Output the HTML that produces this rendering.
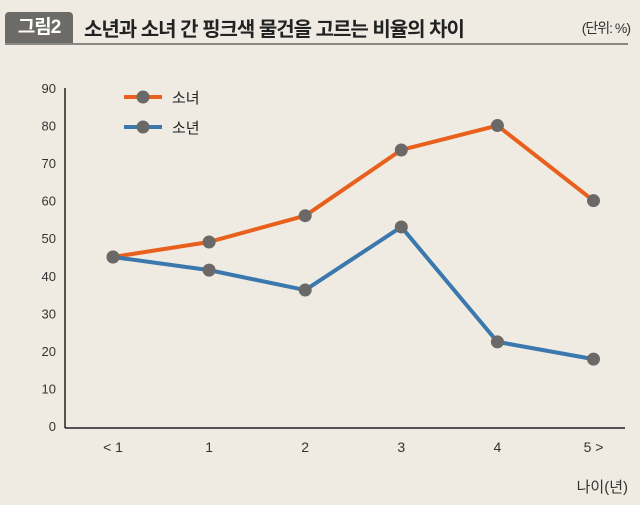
<!DOCTYPE html>
<html><head><meta charset="utf-8"><style>
body{margin:0;background:#efebe3;font-family:"Liberation Sans","Noto Sans CJK KR",sans-serif;}
#wrap{position:relative;width:640px;height:505px;background:#efebe3;overflow:hidden}
#badge{position:absolute;left:5px;top:12px;width:68px;height:32px;background:#6d6b68;color:#fff;font-size:19px;font-weight:bold;line-height:32px;text-align:center;border-radius:4px 4px 0 0;letter-spacing:-1px}
#title{position:absolute;left:84px;top:13px;font-size:20px;font-weight:bold;color:#222;letter-spacing:-1px}
#unit{position:absolute;right:10px;top:18px;font-size:14px;color:#333;letter-spacing:-1px}
#rule{position:absolute;left:5px;top:43px;width:623px;height:2px;background:#8a8784}
</style></head><body>
<div id="wrap">
<div id="badge">그림2</div>
<div id="title">소년과 소녀 간 핑크색 물건을 고르는 비율의 차이</div>
<div id="unit">(단위: %)</div>
<div id="rule"></div>
<svg id="svg" width="640" height="505" style="position:absolute;left:0;top:0"></svg>
</div>
<script>
const categories=["< 1","1","2","3","4","5 >"];
const girls=[45,49,56,73.5,80,60];
const boys=[45,41.5,36.2,53,22.4,17.8];
const yTicks=[0,10,20,30,40,50,60,70,80,90];
const ns="http://www.w3.org/2000/svg";
const svg=document.getElementById('svg');
const x0=113,dx=96.1,y0=426,yMax=88;
const xs=i=>x0+i*dx;
const ys=v=>y0-(v/90)*(y0-yMax);
function mk(t,a,p){const e=document.createElementNS(ns,t);for(const k in a)e.setAttribute(k,a[k]);(p||svg).appendChild(e);return e;}
let ax=mk('line',{x1:65,y1:88,x2:65,y2:428,stroke:'#222','stroke-width':1.5});


let bx=mk('line',{x1:65,y1:428,x2:625,y2:428,stroke:'#222','stroke-width':1.5});


yTicks.forEach(v=>{const t=mk('text',{x:56,y:ys(v)+5,'text-anchor':'end','font-size':13,fill:'#333'});t.textContent=v;

});
categories.forEach((c,i)=>{const t=mk('text',{x:xs(i),y:452,'text-anchor':'middle','font-size':14,fill:'#333'});t.textContent=c;

});
const xt=mk('text',{x:628,y:492,'text-anchor':'end','font-size':15,fill:'#333'});xt.textContent='나이(년)';


function series(vals,color,name){
 const pl=mk('polyline',{points:vals.map((v,i)=>xs(i)+','+ys(v)).join(' '),fill:'none',stroke:color,'stroke-width':4,'stroke-linejoin':'round'});
 
 
 vals.forEach((v,i)=>{const c=mk('circle',{cx:xs(i),cy:ys(v),r:6.5,fill:'#6b6967'});
 
 });
}
series(girls,'#e8601c','girls');
series(boys,'#3a78ae','boys');
[['소녀','#e8601c',97],['소년','#3a78ae',127]].forEach(([l,c,y],k)=>{
 const g=mk('g',{});
 
 
 mk('line',{x1:124,y1:y,x2:162,y2:y,stroke:c,'stroke-width':4},g);
 mk('circle',{cx:143,cy:y,r:6.5,fill:'#6b6967'},g);
 const t=mk('text',{x:172,y:y+6,'font-size':15,fill:'#222'},g);t.textContent=l;
});
</script>
</body></html>
